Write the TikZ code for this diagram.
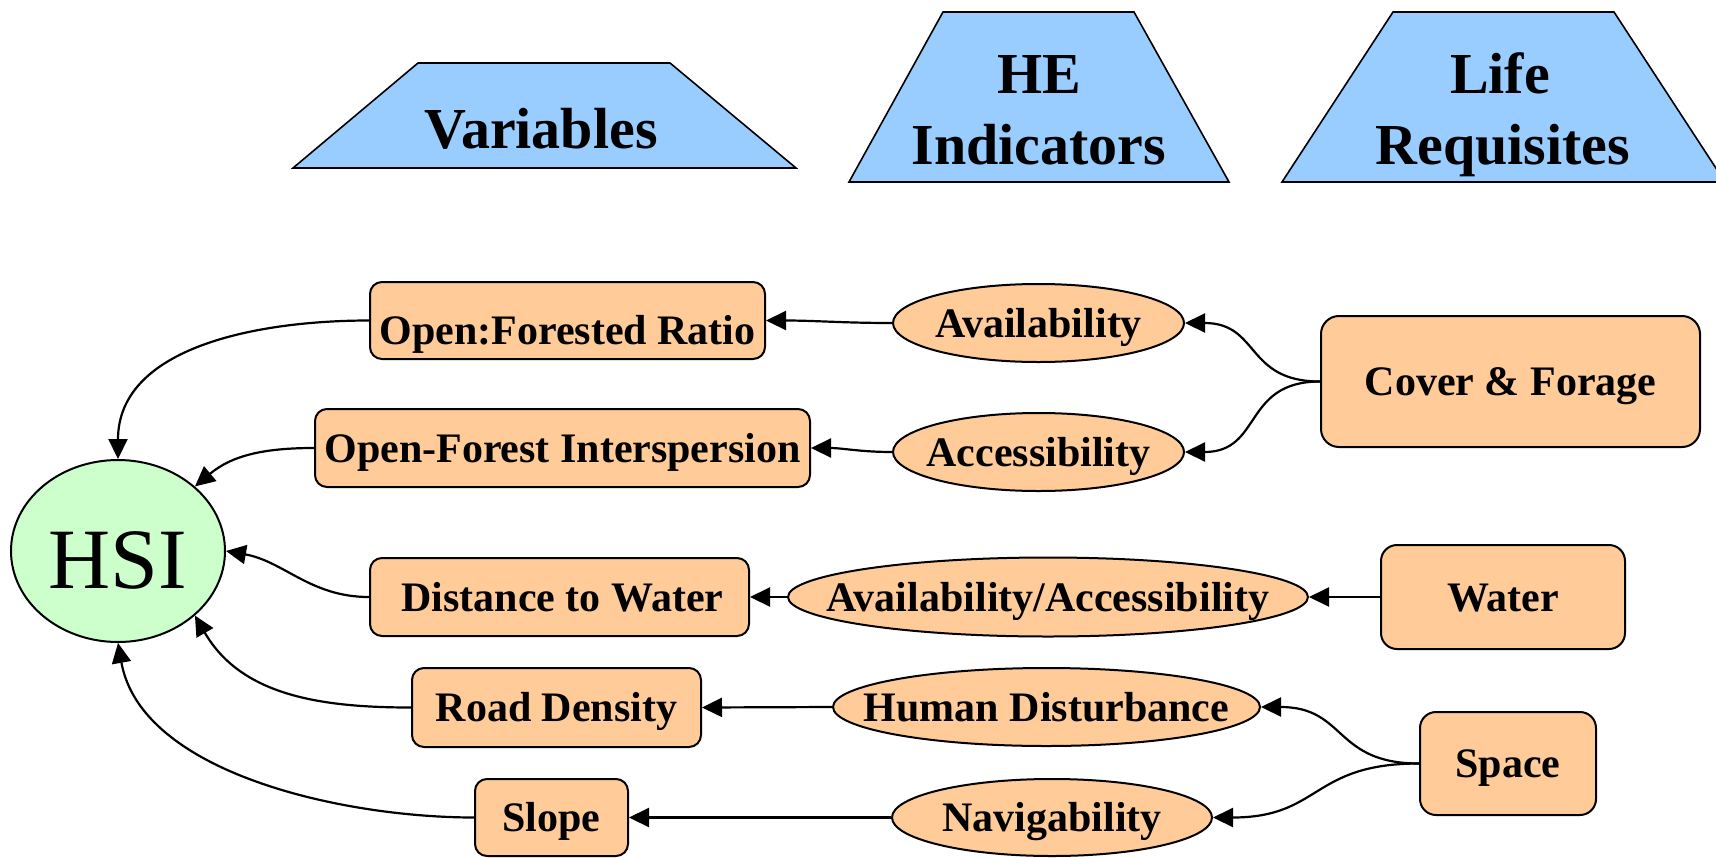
\documentclass[tikz,border=0pt]{standalone}
\usepackage{fontspec}
\setmainfont{Liberation Serif}
\usetikzlibrary{shapes.geometric,arrows.meta}
\definecolor{peach}{RGB}{255,204,153}
\definecolor{skyb}{RGB}{153,204,255}
\definecolor{mint}{RGB}{204,255,204}
\newcommand{\zw}[1]{\makebox[0pt]{#1}}
\begin{document}
\begin{tikzpicture}[x=1pt,y=1pt,
  rbox/.style={draw=black, line width=2pt, fill=peach, rounded corners=12pt, inner sep=0pt,
    font=\fontsize{42}{50}\selectfont\bfseries, text height=28pt, text depth=0pt},
  ovl/.style={draw=black, ellipse, line width=2pt, fill=peach, inner sep=0pt,
    font=\fontsize{42}{50}\selectfont\bfseries, text height=28pt, text depth=0pt},
  hdr/.style={draw=black, line width=1.6pt, fill=skyb},
  hdrtext/.style={font=\fontsize{58}{71}\selectfont\bfseries, anchor=base, inner sep=0pt},
  conn/.style={line width=2.2pt, -{Triangle[length=20pt,width=19pt]}},
]
\useasboundingbox (0,0) rectangle (1716,-857);
\begin{scope}
\clip (0,0) rectangle (1716,-857);
% header trapezoids
\draw[hdr] (293,-168) -- (418,-63) -- (670,-63) -- (796,-168) -- cycle;
\draw[hdr] (849,-182) -- (943,-12) -- (1134,-12) -- (1229,-182) -- cycle;
\draw[hdr] (1282,-182) -- (1393,-12) -- (1614,-12) -- (1725,-182) -- cycle;
\end{scope}
\node[hdrtext] (tv) at (541,-148) {Variables};
\node[hdrtext] (th1) at (1039,-93) {HE};
\node[hdrtext] (th2) at (1039,-164) {Indicators};
\node[hdrtext] (tl1) at (1500,-93) {Life};
\node[hdrtext] (tl2) at (1503,-164) {Requisites};

% HSI
\node[draw=black, ellipse, line width=2pt, fill=mint, minimum width=214pt, minimum height=182pt,
  inner sep=0pt, font=\fontsize{86}{100}\selectfont, text height=57pt, text depth=0pt]
  (hsi) at (118,-551) {\zw{\raisebox{-9pt}{HSI}}};

% variables
\node[rbox, minimum width=395pt, minimum height=77pt] (ofr) at (567.5,-320.5) {\zw{\raisebox{-10pt}{Open:Forested Ratio}}};
\node[rbox, minimum width=495pt, minimum height=78pt] (ofi) at (562.5,-448) {\zw{Open-Forest Interspersion}};
\node[rbox, minimum width=379pt, minimum height=78pt] (dtw) at (559.5,-597) {\zw{\hspace{6pt}Distance to Water}};
\node[rbox, minimum width=289pt, minimum height=79pt] (rd) at (556.5,-707.5) {\zw{Road Density}};
\node[rbox, minimum width=153pt, minimum height=77pt] (sl) at (551.5,-817.5) {\zw{Slope}};

% indicators
\node[ovl, minimum width=291pt, minimum height=78pt] (av) at (1038.5,-323) {\zw{Availability}};
\node[ovl, minimum width=291pt, minimum height=78pt] (ac) at (1038.5,-452) {\zw{Accessibility}};
\node[ovl, minimum width=520pt, minimum height=79pt] (aa) at (1048,-597) {\zw{Availability/Accessibility}};
\node[ovl, minimum width=427pt, minimum height=78pt] (hd) at (1046.5,-707) {\zw{Human Disturbance}};
\node[ovl, minimum width=320pt, minimum height=77pt] (nv) at (1052,-817.5) {\zw{Navigability}};

% requisites
\node[rbox, rounded corners=18pt, minimum width=379pt, minimum height=131pt] (cf) at (1510.5,-381.5) {\zw{Cover \& Forage}};
\node[rbox, rounded corners=16pt, minimum width=244pt, minimum height=104pt] (wa) at (1503,-597) {\zw{Water}};
\node[rbox, rounded corners=16pt, minimum width=176pt, minimum height=103pt] (sp) at (1508,-763.5) {\zw{Space}};

% connectors
\draw[conn] (av.west) to[out=180,in=0] (ofr.east);
\draw[conn] (ac.west) to[out=180,in=0] (ofi.east);
\draw[conn] (aa.west) -- (dtw.east);
\draw[conn] (hd.west) -- (rd.east);
\draw[conn] (nv.west) -- (sl.east);
\draw[conn] (wa.west) -- (aa.east);
\draw[conn] (cf.west) to[out=180,in=0,looseness=1.3] (av.east);
\draw[conn] (cf.west) to[out=180,in=0,looseness=1.3] (ac.east);
\draw[conn] (sp.west) to[out=180,in=0,looseness=1.3] (hd.east);
\draw[conn] (sp.west) to[out=180,in=0,looseness=1.3] (nv.east);

\draw[conn] (ofr.west) to[out=180,in=90] (hsi.north);
\draw[conn] (ofi.west) to[out=180,in=40] (hsi.40);
\draw[conn] (dtw.west) to[out=180,in=-10] (hsi.east);
\draw[conn] (rd.west) to[out=180,in=-60] (hsi.-40);
\draw[conn] (sl.west) to[out=180,in=-80,looseness=0.85] (hsi.south);
\end{tikzpicture}
\end{document}
